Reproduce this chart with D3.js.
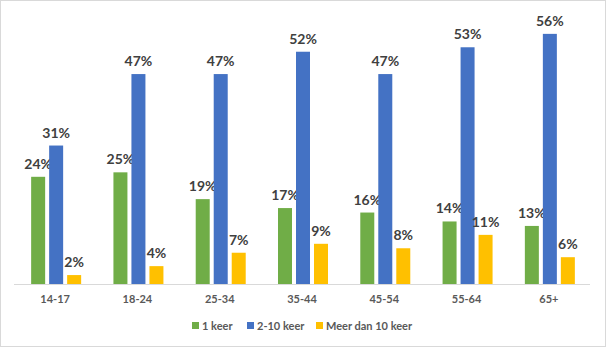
<!DOCTYPE html>
<html><head><meta charset="utf-8">
<script src="https://cdn.jsdelivr.net/npm/d3@7"></script>
<style>body{margin:0;background:#fff}svg{display:block}</style>
</head><body>
<script>
const categories = ["14-17","18-24","25-34","35-44","45-54","55-64","65+"];
const seriesNames = ["1 keer","2-10 keer","Meer dan 10 keer"];
const eenKeer = [24,25,19,17,16,14,13];
const tweeTotTien = [31,47,47,52,47,53,56];
const meerDanTien = [2,4,7,9,8,11,6];
const colors = ["#70ad47","#4472c4","#ffc000"];

const W=606,H=347;
const svg=d3.select("body").append("svg").attr("width",W).attr("height",H);
svg.append("rect").attr("x",0.5).attr("y",0.5).attr("width",W-1).attr("height",H-1)
  .attr("fill","#fff").attr("stroke","#d9d9d9");

const base=284;
const x=d3.scaleBand().domain(categories).range([14,590]).paddingInner(0).paddingOuter(0);
const y=d3.scaleLinear().domain([0,60]).range([base,base-268]);
const series=[eenKeer,tweeTotTien,meerDanTien];
const barW=14, gap=4;
const x1=d3.scaleBand().domain([0,1,2]).range([0,3*barW+2*gap]).paddingInner(gap/(barW+gap));

const groupOff=(x.bandwidth()-(3*barW+2*gap))/2+1;
const g=svg.append("g");
categories.forEach((c,i)=>{
  series.forEach((s,k)=>{
    const bx=x(c)+groupOff+x1(k);
    g.append("rect").attr("x",bx).attr("y",y(s[i])).attr("width",x1.bandwidth())
      .attr("height",base-y(s[i])).attr("fill",colors[k]);
    g.append("text").attr("x",bx+x1.bandwidth()/2).attr("y",y(s[i])-8)
      .attr("text-anchor","middle").attr("font-family","Lato").attr("font-weight","bold")
      .attr("font-size",14).attr("fill","#404040").text(s[i]+"%");
  });
});
svg.append("line").attr("x1",14).attr("x2",590).attr("y1",base+0.5).attr("y2",base+0.5)
  .attr("stroke","#d9d9d9").attr("stroke-width",1);
const ax=svg.append("g").attr("transform",`translate(0,${base})`)
  .call(d3.axisBottom(x).tickSize(0).tickPadding(11));
ax.select(".domain").remove();
ax.selectAll("text").attr("font-family","Lato").attr("font-weight","bold").attr("font-size",11).attr("fill","#595959");

const leg=svg.append("g").attr("transform","translate(0,326)");
const legX=[192,247,316];
seriesNames.forEach((n,k)=>{
  leg.append("rect").attr("x",legX[k]).attr("y",-4).attr("width",7).attr("height",7).attr("fill",colors[k]);
  leg.append("text").attr("x",legX[k]+10).attr("y",4).attr("font-family","Lato").attr("font-weight","bold")
    .attr("font-size",11).attr("fill","#595959").text(n);
});
</script>
</body></html>
